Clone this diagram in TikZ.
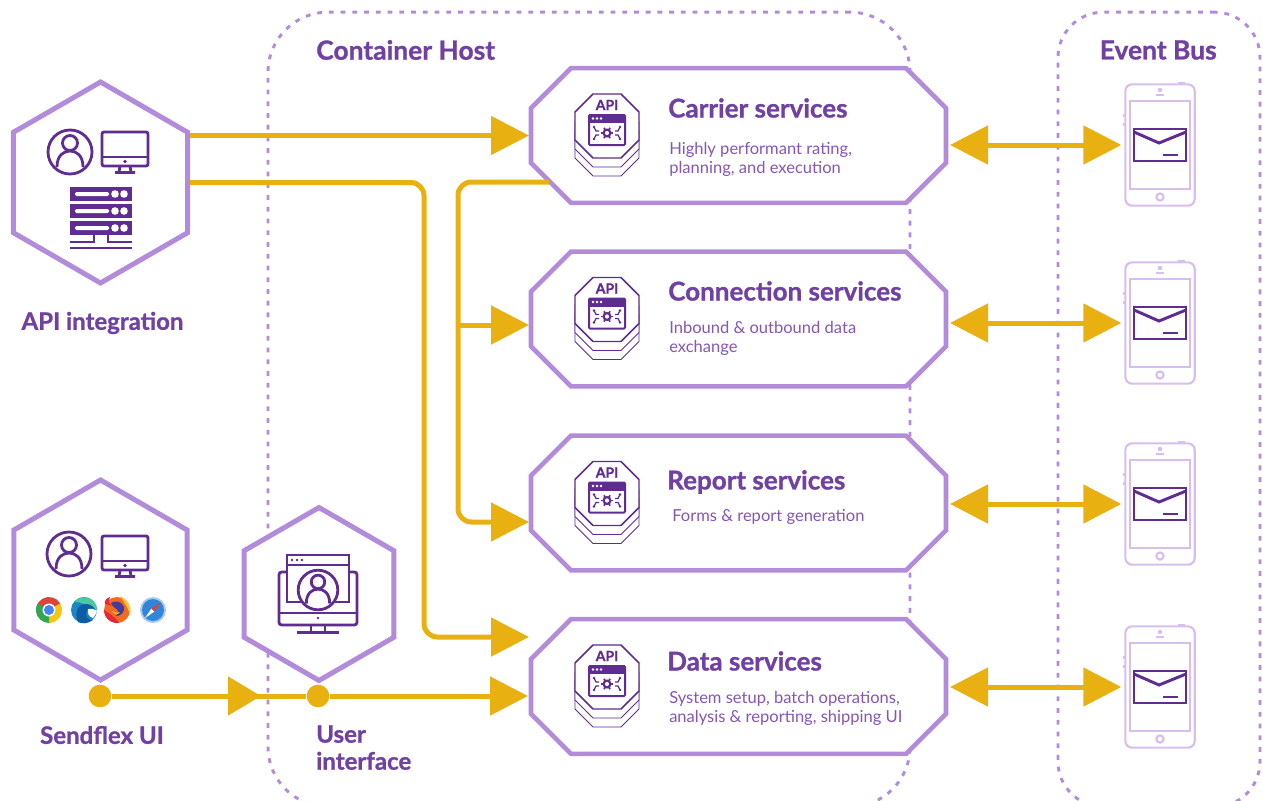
\documentclass[tikz,border=0pt]{standalone}
\usepackage{fontspec}
\setmainfont{Lato}[BoldFeatures={FakeBold=1}]
\usetikzlibrary{calc}
\usetikzlibrary{shapes}
\usetikzlibrary{arrows.meta}
\definecolor{hexline}{HTML}{B28BDA}
\definecolor{darkpurple}{HTML}{5F2C91}
\definecolor{titlepurple}{HTML}{7040A3}
\definecolor{descpurple}{HTML}{8555B8}
\definecolor{phoneline}{HTML}{D7BEEE}
\definecolor{flowyellow}{HTML}{E9B011}
\definecolor{chromered}{HTML}{DB4437}
\definecolor{chromeyellow}{HTML}{F6C413}
\definecolor{chromegreen}{HTML}{2FA84F}
\definecolor{chromeblue}{HTML}{4285F4}
\definecolor{edgeblue}{HTML}{1B86C4}
\definecolor{edgedeep}{HTML}{0F5CA6}
\definecolor{edgegreen}{HTML}{4CC8A0}
\definecolor{foxorange}{HTML}{F36B21}
\definecolor{foxred}{HTML}{E5283C}
\definecolor{foxyellow}{HTML}{FFC42E}
\definecolor{foxblue}{HTML}{3F3D9E}
\definecolor{safariblue}{HTML}{2F86DA}
\definecolor{safaririm}{HTML}{A9C9EA}
\tikzset{
    hexnode/.style={draw=hexline, line width=3.75pt, fill=white, regular polygon, regular polygon sides=6, shape border rotate=30, minimum size=#1*0.75pt, inner sep=0pt},
    service/.style={minimum width=311.25pt, minimum height=101pt, inner sep=0pt, outer sep=0pt},
    serviceline/.style={draw=hexline, line width=3.4pt, fill=white},
    container/.style={draw=hexline, line width=2.2pt, dash pattern=on 3.6pt off 5.2pt, rounded corners=#1, inner sep=0pt},
    flow/.style={draw=flowyellow, line width=3.75pt},
    flowtip/.style={flow, -{Triangle[length=28.5pt,width=28.5pt]}},
    uitip/.style={flow, -{Triangle[length=24.75pt,width=28.5pt]}},
    dualtip/.style={flow, {Triangle[length=28.5pt,width=28.5pt]}-{Triangle[length=28.5pt,width=28.5pt]}},
    flowdot/.style={circle, fill=flowyellow, minimum size=17pt, inner sep=0pt},
    phonebody/.style={draw=phoneline, line width=1.6pt, rounded corners=5pt, minimum width=52pt, minimum height=91pt, inner sep=0pt},
    heading/.style={text=titlepurple, font=\fontsize{19.5}{22}\selectfont\bfseries, anchor=west, inner sep=0pt},
    tag/.style={text=titlepurple, font=\fontsize{18}{20.25}\selectfont\bfseries, inner sep=0pt},
    blurb/.style={text=descpurple, font=\fontsize{12.4}{14.25}\selectfont, anchor=west, align=left, inner sep=0pt},
    icon/.style={draw=darkpurple, line width=2.1pt},
    usericon/.pic={
        \draw[icon, fill=white] (0,0) circle (22);
        \draw[icon] (0,-9) circle (7.5);
        \draw[icon] (-13,15) .. controls (-13,3) and (-6,-1) .. (0,-1) .. controls (6,-1) and (13,3) .. (13,15);},
    monitoricon/.pic={
        \draw[icon, rounded corners=1.5pt] (-23,-17) rectangle (23,17);
        \draw[icon] (-23,8) -- (23,8);
        \fill[darkpurple] (0,12.5) circle (1.8);
        \draw[icon] (-5,17) -- (-6,23) (5,17) -- (6,23) (-10,23.5) -- (10,23.5);},
    servericon/.pic={
        \foreach \slot in {0,17,34} {
            \fill[darkpurple] (-31,\slot-7) rectangle (31,\slot+7);
            \fill[white, rounded corners=1pt] (-26,\slot-2) rectangle (8,\slot+2);
            \fill[white] (14,\slot) circle (3.8) (23,\slot) circle (3.8);}
        \draw[darkpurple, line width=1.2pt] (-31,48) -- (-7,48) -- (-7,41) (7,41) -- (7,48) -- (31,48);
        \draw[darkpurple, line width=1.2pt] (-31,54) -- (31,54);},
    apistack/.pic={
        \foreach \off in {18,9} {
            \draw[darkpurple, line width=0.7pt, fill=white] (-32,-14+\off) -- (-32,14+\off) -- (-14,32+\off) -- (14,32+\off) -- (32,14+\off) -- (32,-14+\off);}
        \draw[darkpurple, line width=1.1pt, fill=white] (-32,-14) -- (-14,-32) -- (14,-32) -- (32,-14) -- (32,14) -- (14,32) -- (-14,32) -- (-32,14) -- cycle;
        \node[text=darkpurple, font=\fontsize{10.5}{10}\selectfont\bfseries, inner sep=0pt] (apitag) at (0,-21) {API};
        \draw[darkpurple, line width=1.5pt, rounded corners=0.8pt] (-18,-11) rectangle (18,19);
        \fill[darkpurple] (-18,-12) rectangle (18,-3);
        \foreach \spot in {-14,-10,-6} {\fill[white] (\spot,-7.5) circle (1.3);}
        \begin{scope}[shift={(0,7)}]
            \draw[darkpurple, line width=1.6pt] (0,0) circle (3.4);
            \foreach \ang in {0,60,...,300} {\draw[darkpurple, line width=1.3pt] (\ang:3.8) -- (\ang:6);}
            \foreach \sx in {-1,1} {
                \draw[darkpurple, line width=0.9pt] (\sx*8,-2) -- (\sx*11,-2) -- (\sx*13,-6) (\sx*8,2) -- (\sx*11,2) -- (\sx*13,6);
                \fill[darkpurple] (\sx*13,-6) circle (1.3) (\sx*13,6) circle (1.3);}
        \end{scope}},
    phoneicon/.pic={
        \draw[phoneline, line width=1.6pt] (-30,-44) rectangle (30,44);
        \draw[phoneline, line width=1.6pt] (0,52) circle (3.6);
        \fill[phoneline] (0,-55) circle (2.2);
        \draw[phoneline, line width=1.2pt] (-4,-50) -- (4,-50);
        \draw[phoneline, line width=1.6pt] (18,-61.5) -- (25,-61.5) (-36,-31) -- (-36,-28) (-36,-22) -- (-36,-19);
        \draw[darkpurple, line width=2.2pt] (-26,-16) rectangle (26,16);
        \draw[darkpurple, line width=2.2pt] (-26,-13) -- (-1,-2) -- (26,-13);
        \draw[darkpurple, line width=2.2pt] (3,10) -- (18,10);},
    chromeicon/.pic={
        \fill[chromered] (0,0) -- (-30:13) arc (-30:-210:13) -- cycle;
        \fill[chromeyellow] (0,0) -- (-30:13) arc (-30:90:13) -- cycle;
        \fill[chromegreen] (0,0) -- (90:13) arc (90:210:13) -- cycle;
        \fill[white] (0,0) circle (6.5);
        \fill[chromeblue] (0,0) circle (5);},
    edgeicon/.pic={
        \fill[edgeblue] (0,0) circle (13);
        \fill[edgegreen] (-10,-8) arc (-141:13:13) .. controls (8,-3) and (-4,-9) .. (-10,-8) -- cycle;
        \fill[edgedeep] (-6,12) .. controls (-10,2) and (-6,-6) .. (2,-6) .. controls (7,-6) and (10,-3) .. (12,1) .. controls (8,-1) and (2,-1) .. (2,4) .. controls (2,9) and (7,11) .. (9,10) .. controls (3,14) and (-2,14) .. (-6,12) -- cycle;
        \fill[white] (4,-1) .. controls (3,3) and (5,7) .. (9,8) .. controls (11,6) and (12,4) .. (13,1) .. controls (10,-1) and (7,-2) .. (4,-1) -- cycle;},
    firefoxicon/.pic={
        \fill[foxorange] (0,0) circle (13);
        \fill[foxred] (-13,0) arc (180:80:13) .. controls (-3,6) and (-8,3) .. (-13,0) -- cycle;
        \fill[foxyellow] (3,-14) .. controls (12,-10) and (15,-2) .. (13,5) .. controls (11,-3) and (7,-8) .. (3,-14) -- cycle;
        \fill[foxred] (-12,-6) .. controls (-13,-10) and (-10,-12) .. (-7,-13) .. controls (-9,-9) and (-8,-5) .. (-4,-4) -- cycle;
        \fill[foxblue] (-6,-7) .. controls (-2,-10) and (5,-9) .. (7,-3) .. controls (8,2) and (4,6) .. (-1,6) .. controls (2,3) and (2,0) .. (-2,-2) .. controls (-4,-3) and (-5,-5) .. (-6,-7) -- cycle;
        \fill[foxyellow] (-5,1) .. controls (-3,5) and (1,5) .. (3,2) .. controls (1,3) and (-2,3) .. (-5,1) -- cycle;},
    safariicon/.pic={
        \fill[safaririm] (0,0) circle (13);
        \fill[safariblue] (0,0) circle (11);
        \fill[white] (-8,8) -- (-1.5,-1.5) -- (1.5,1.5) -- cycle;
        \fill[chromered] (8,-8) -- (-1.5,-1.5) -- (1.5,1.5) -- cycle;},
    windowicon/.pic={
        \draw[icon, rounded corners=2pt, fill=white] (-39,-22) -- (-39,31) -- (39,31) -- (39,-22) -- cycle;
        \draw[icon] (-39,19) -- (39,19);
        \fill[darkpurple] (0,24) circle (1.4);
        \draw[icon] (-7,31) -- (-7,38) (7,31) -- (7,38) (-21,38.5) -- (21,38.5);
        \draw[icon, fill=white] (-31,-39) rectangle (31,8);
        \draw[icon] (-31,-29) -- (31,-29);
        \foreach \spot in {-26,-21,-16} {\fill[darkpurple] (\spot,-34) circle (1.3);}
        \pic[scale=0.9] at (0,-4) {usericon};}
}

\begin{document}
\begin{tikzpicture}[x=0.75pt,y=-0.75pt]
        \clip (0,0) rectangle (1263,800);
        \node[container=45pt, minimum width=481.5pt, minimum height=596pt] (hostbox) at (589,409.5) {};
        \node[container=34pt, minimum width=151.5pt, minimum height=596pt] (busbox) at (1159,409.5) {};
        \node[tag, anchor=west, font=\fontsize{19.8}{20}\selectfont\bfseries] (hostlabel) at (316,50) {Container Host};
        \node[tag, anchor=west, font=\fontsize{19.8}{20}\selectfont\bfseries] (buslabel) at (1099.5,50) {Event Bus};

        \node[hexnode=201] (apihex) at (100.5,182.5) {};
        \node[hexnode=200] (sendflexhex) at (100.5,580) {};
        \node[hexnode=173] (userhex) at (319,594) {};
        \node[tag] (apilabel) at (102.5,323) {API integration};
        \node[tag] (sendflexlabel) at (102,735) {Sendflex UI};
        \node[tag, align=left, anchor=north west] (userlabel) at (316,725) {User\\interface};

        \pic at (70,152) {usericon};
        \pic at (125,149) {monitoricon};
        \pic at (101,194) {servericon};
        \pic at (69,554) {usericon};
        \pic at (125,553) {monitoricon};
        \pic at (49,610) {chromeicon};
        \pic at (84,610) {edgeicon};
        \pic at (117,610) {firefoxicon};
        \pic at (153,610) {safariicon};
        \pic at (318,594) {windowicon};

        \foreach \name/\ycen/\yphone/\xtitle/\ytitle/\xdesc/\ydesc/\title/\desc in {%
            carrier/135.5/145/668/108/669/159/{Carrier services}/{Highly performant rating,\\planning, and execution},%
            connection/319/323/668/291/669/338/{Connection services}/{Inbound \& outbound data\\exchange},%
            report/503/504/667/482/672/516.5/{Report services}/{Forms \& report generation},%
            data/686.5/687/667/661/669/708/{Data services}/{System setup, batch operations,\\analysis \& reporting, shipping UI}} {
            \node[service] (\name) at (738.5,\ycen) {};
            \draw[serviceline] ($(\name.north west)+(40,0)$) -- ($(\name.north east)+(-40,0)$) -- ($(\name.north east)+(0,40)$) -- ($(\name.south east)+(0,-40)$)
                -- ($(\name.south east)+(-40,0)$) -- ($(\name.south west)+(40,0)$) -- ($(\name.south west)+(0,-40)$) -- ($(\name.north west)+(0,40)$) -- cycle;
            \pic at ($(\name.west)+(76,-9.5)$) {apistack};
            \node[heading] (\name title) at (\xtitle,\ytitle) {\title};
            \node[blurb] (\name desc) at (\xdesc,\ydesc) {\desc};
            \node[phonebody] (\name phone) at (1160,\yphone) {};
            \pic at (\name phone) {phoneicon};
            \draw[dualtip, shorten <=3pt, shorten >=2.2pt] (\name.east |- \name phone.west) -- (\name phone.west);}

        \coordinate (carrierout) at (549,182);
        \coordinate (trunk) at (458,182);
        \coordinate (connin) at (529,325);
        \coordinate (reportin) at (529,522);
        \coordinate (databend) at (424,637);
        \coordinate (datain) at (529,637);
        \coordinate (uiend) at (261,696);
        \coordinate (userin) at (528,696);
        \node[flowdot] (sendflexdot) at (100,696) {};
        \node[flowdot] (userdot) at (318,696) {};

        \draw[flowtip] (apihex.east |- carrier.west) -- ($(carrier.west)+(-2,0)$);
        \draw[flowtip, rounded corners=10pt] (apihex.east) -| (databend) -- (datain);
        \draw[flowtip, rounded corners=10pt] (carrierout) -- (trunk) |- (reportin);
        \draw[flowtip] (trunk |- connin) -- (connin);
        \draw[flow] (sendflexdot) -- (userdot);
        \draw[uitip] (sendflexdot) -- (uiend);
        \draw[flowtip] (userdot) -- (userin);
        \end{tikzpicture}
\end{document}
